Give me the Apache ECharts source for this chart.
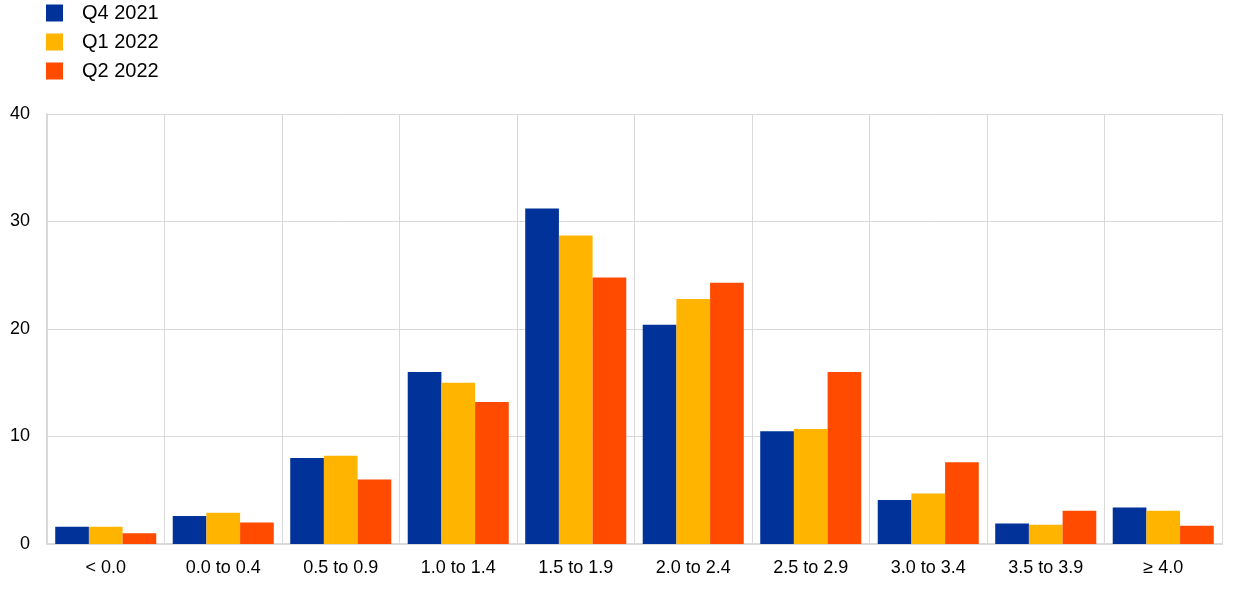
<!DOCTYPE html>
<html><head><meta charset="utf-8">
<script src="https://cdn.jsdelivr.net/npm/echarts@6/dist/echarts.min.js"></script>
<style>html,body{margin:0;padding:0;background:#fff}#c{width:1240px;height:590px}</style>
</head><body><div id="c"></div>
<script>
const categories = ['< 0.0','0.0 to 0.4','0.5 to 0.9','1.0 to 1.4','1.5 to 1.9','2.0 to 2.4','2.5 to 2.9','3.0 to 3.4','3.5 to 3.9','≥ 4.0'];
const seriesNames = ['Q4 2021','Q1 2022','Q2 2022'];
const q42021 = [1.6, 2.6, 8.0, 16.0, 31.2, 20.4, 10.5, 4.1, 1.9, 3.4];
const q12022 = [1.6, 2.9, 8.2, 15.0, 28.7, 22.8, 10.7, 4.7, 1.8, 3.1];
const q22022 = [1.0, 2.0, 6.0, 13.2, 24.8, 24.3, 16.0, 7.6, 3.1, 1.7];
const colors = ['#003299','#FFB400','#FF4B00'];
const values = [q42021, q12022, q22022];
const chart = echarts.init(document.getElementById('c'), null, {renderer:'canvas'});
chart.setOption({
  animation:false,
  textStyle:{fontFamily:'Arial, Liberation Sans, sans-serif'},
  legend:{orient:'vertical', left:41, top:-2, itemWidth:17, itemHeight:17, itemGap:9,
    icon:'rect', textStyle:{fontSize:20, color:'#000', padding:[0,0,0,14]}, data:seriesNames},
  grid:{left:47, right:18, top:114, bottom:46},
  xAxis:{type:'category', data:categories,
    axisLine:{show:true, lineStyle:{color:'#d9d9d9', width:2}},
    axisTick:{show:false},
    axisLabel:{fontSize:18, color:'#000', margin:15},
    splitLine:{show:true, lineStyle:{color:'#d9d9d9', width:1}}},
  yAxis:{type:'value', min:0, max:40, interval:10,
    axisLine:{show:true, lineStyle:{color:'#d9d9d9', width:2}},
    axisTick:{show:false},
    axisLabel:{fontSize:18, color:'#000', margin:17},
    splitLine:{show:true, lineStyle:{color:'#d9d9d9', width:1}}},
  series: seriesNames.map((n,i)=>({
    name:n, type:'bar', data:values[i], barGap:'0%', barCategoryGap:'14%',
    itemStyle:{color:colors[i]}
  }))
});
</script></body></html>
